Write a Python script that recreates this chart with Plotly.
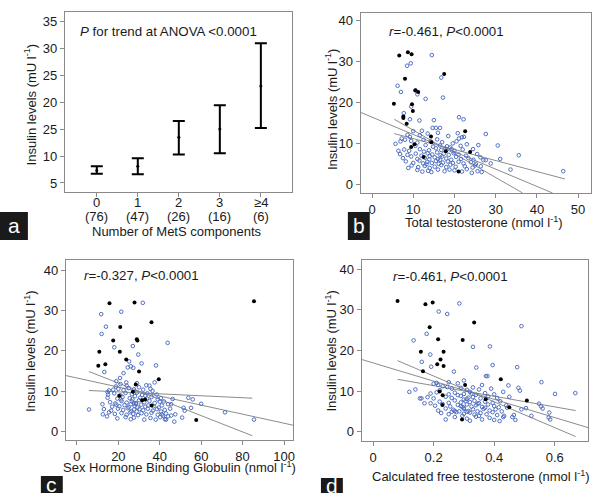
import plotly.graph_objects as go

W, H = 606, 493

# ---------------- data ----------------
# Panel a
group_num = ["0", "1", "2", "3", "≥4"]
group_n = ["(76)", "(47)", "(26)", "(16)", "(6)"]
group_pos = [0, 1, 2, 3, 4]
insulin_mean = [7.3, 8.1, 13.5, 15.0, 23.0]
insulin_upper = [8.1, 9.6, 16.5, 19.4, 30.9]
insulin_lower = [6.7, 6.6, 10.3, 10.5, 15.2]
a_ytick_vals = [5, 10, 15, 20, 25, 30, 35]
a_ytick_text = ["5", "10", "25", "20", "25", "30", "35"]

# Panel b: total testosterone vs insulin
b_black_x = [6.6, 8.7, 9.6, 8.0, 17.5, 10.5, 11.2, 5.3, 9.7, 9.9, 7.6, 7.6, 8.4, 14.3, 22.6, 14.4, 17.9, 12.5, 9.5, 10.3, 21.0, 23.8]
b_black_y = [31.5, 32.3, 31.8, 25.8, 27.0, 23.0, 22.6, 19.7, 19.6, 17.9, 16.6, 16.2, 14.8, 11.7, 13.0, 10.3, 8.1, 6.7, 9.1, 9.8, 3.1, 7.9]
b_blue_x = [8.5, 9.4, 14.5, 6.2, 7.0, 16.8, 17.2, 11.0, 10.6, 13.0, 9.5, 7.7, 9.2, 11.5, 15.0, 21.1, 22.2, 14.7, 15.5, 16.5,
            12.1, 27.6, 30.5, 35.6, 31.1, 33.6, 28.8, 27.0, 27.6, 46.4,
            10.0, 8.6, 11.6, 13.5, 16.0, 20.8, 9.2, 7.2, 21.1, 21.8, 22.3, 18.5,
            8.0, 6.9, 9.5, 12.5, 14.2, 17.0, 20.5, 19.6, 11.0, 15.8,
            5.7, 10.5, 13.0, 14.8, 16.5, 18.2, 19.0, 21.5, 23.0, 25.8,
            7.8, 9.0, 11.6, 13.8, 15.5, 16.8, 17.8, 20.0, 22.0, 24.5, 12.6, 19.3,
            6.8, 8.6, 10.6, 12.0, 13.5, 14.6, 15.8, 16.6, 17.4, 18.6, 19.8, 21.0, 22.8, 25.5, 14.0,
            7.5, 9.5, 11.0, 12.8, 13.9, 15.2, 16.0, 17.0, 18.0, 19.2, 20.4, 21.6, 23.4, 24.6, 26.3, 16.5,
            8.2, 10.0, 11.5, 12.4, 13.4, 14.5, 15.5, 17.2, 18.4, 19.6, 21.0, 22.2, 24.0, 25.2, 26.4, 16.2,
            9.6, 11.2, 12.8, 14.0, 15.2, 16.8, 18.0, 19.0, 20.3, 22.5, 24.4, 25.0, 13.2,
            11.0, 12.2, 13.6, 14.4, 16.0, 17.6, 18.8, 20.0, 21.8, 23.0, 24.2, 25.6, 26.6,
            6.4, 8.8]
b_blue_y = [29.0, 29.6, 31.6, 24.1, 22.6, 26.1, 21.2, 22.0, 22.9, 20.9, 19.0, 17.4, 15.9, 15.6, 15.7, 16.4, 15.9, 13.8, 13.8, 13.8,
            13.1, 12.3, 9.5, 7.1, 6.2, 3.6, 5.1, 5.9, 5.9, 3.2,
            13.0, 12.1, 12.0, 12.4, 12.6, 12.5, 11.6, 11.2, 11.2, 11.5, 11.6, 11.8,
            10.9, 10.5, 10.6, 10.9, 10.5, 10.3, 10.5, 10.0, 10.2, 11.0,
            9.9, 9.4, 9.6, 9.2, 9.5, 9.3, 9.0, 9.4, 9.8, 9.6,
            8.5, 8.2, 8.6, 8.3, 8.8, 8.4, 8.7, 8.2, 8.5, 8.6, 8.0, 8.6,
            7.4, 7.2, 7.5, 7.0, 7.6, 7.3, 7.8, 7.1, 7.5, 7.2, 7.6, 7.3, 7.0, 7.4, 6.9,
            6.4, 6.8, 6.2, 6.5, 6.1, 6.6, 6.2, 6.8, 6.3, 6.0, 6.7, 6.2, 6.4, 6.0, 6.6, 6.0,
            5.6, 5.2, 5.8, 5.1, 5.5, 5.2, 5.7, 5.3, 5.6, 5.2, 5.5, 5.1, 5.4, 5.0, 4.4, 5.0,
            4.6, 4.2, 4.5, 4.0, 4.3, 4.7, 4.2, 4.8, 4.3, 4.4, 4.1, 4.6, 4.9,
            3.5, 3.1, 3.3, 3.0, 3.6, 3.2, 3.6, 3.4, 3.1, 3.7, 2.8, 3.2, 3.0,
            8.2, 4.0]
b_fit_x = [-2.8, 43.8]
b_fit_y = [17.6, -2.13]
b_lim1_x = [5.4, 36.5]
b_lim1_y = [15.9, -2.1]
b_lim2_x = [5.4, 46.8]
b_lim2_y = [12.4, 1.3]

# Panel c: SHBG vs insulin
c_black_x = [15.7, 27.8, 36.0, 20.9, 28.9, 17.5, 10.8, 20.7, 13.7, 10.3, 23.8, 30.0, 39.5, 28.4, 27.0, 20.4, 31.5, 32.9, 36.1, 57.6, 85.5, 29.2]
c_black_y = [31.8, 32.0, 27.1, 25.9, 22.9, 22.6, 19.8, 19.8, 16.7, 16.3, 17.9, 14.9, 13.0, 11.7, 9.9, 8.9, 7.8, 8.0, 6.5, 2.9, 32.3, 22.6]
c_blue_x = [31.8, 11.7, 21.4, 11.9, 14.0, 43.8, 27.0, 18.0, 29.6, 38.2, 31.2, 25.2, 26.0, 24.5, 13.2, 27.2, 22.5, 20.8, 23.8, 21.0, 37.5, 35.0, 33.5, 19.0,
            46.2, 53.8, 55.9, 60.0, 71.5, 85.5, 51.5, 52.0, 55.1, 47.5, 50.8, 47.0, 45.0, 44.0, 42.0, 40.5, 43.0, 45.5, 41.0,
            15.5, 17.5, 20.0, 22.5, 25.0, 27.5, 30.0, 32.0, 36.5, 14.8, 24.0,
            15.0, 18.0, 21.0, 23.5, 26.5, 29.0, 31.5, 34.0, 38.5, 33.0,
            14.8, 19.5, 22.0, 25.5, 28.0, 30.5, 33.8, 36.0, 39.0, 26.8,
            16.0, 18.5, 21.5, 24.0, 26.5, 28.5, 30.0, 32.5, 35.0, 37.5, 40.0, 27.5,
            17.0, 19.0, 20.5, 23.0, 25.0, 26.0, 27.8, 29.3, 31.0, 33.0, 34.5, 37.0, 39.5, 41.0, 28.5,
            5.8, 13.0, 16.5, 19.8, 22.3, 24.5, 26.3, 27.6, 28.8, 30.2, 32.0, 34.2, 36.6, 38.6, 40.6, 42.4,
            12.5, 15.5, 18.3, 21.5, 24.0, 25.8, 27.2, 29.5, 31.2, 33.5, 36.0, 39.0, 41.5, 43.0,
            14.5, 19.5, 23.5, 26.0, 27.5, 32.5, 35.5, 38.0, 40.2, 42.5, 44.0,
            18.8, 29.0, 12.3, 21.2, 35.5, 45.5]
c_blue_y = [31.9, 29.1, 29.7, 24.2, 26.0, 22.0, 21.2, 20.9, 19.1, 16.4, 16.9, 17.4, 16.2, 15.9, 14.8, 15.8, 14.5, 13.3, 12.2, 11.8, 12.2, 11.4, 11.5, 12.5,
            8.1, 8.4, 8.0, 6.9, 4.8, 3.0, 5.9, 5.2, 5.9, 4.3, 3.5, 2.5, 5.7, 6.8, 7.5, 8.3, 3.0, 4.0, 4.3,
            10.2, 10.4, 10.6, 10.3, 10.8, 10.5, 11.0, 10.4, 10.1, 9.8, 11.4,
            9.2, 9.5, 9.0, 9.6, 9.3, 9.7, 9.1, 9.5, 9.2, 8.9,
            8.4, 8.2, 8.6, 8.3, 8.8, 8.4, 8.2, 8.6, 8.0, 8.0,
            7.3, 7.0, 7.6, 7.2, 7.5, 7.1, 7.8, 7.3, 7.6, 7.1, 7.4, 7.0,
            6.2, 6.7, 6.3, 6.6, 6.1, 6.8, 6.4, 6.0, 6.7, 6.2, 6.5, 6.3, 6.0, 6.5, 6.9,
            5.5, 5.6, 5.2, 5.7, 5.4, 5.8, 5.1, 5.5, 5.0, 5.6, 5.3, 5.7, 5.2, 5.6, 5.0, 5.4,
            4.3, 4.8, 4.4, 4.6, 4.2, 4.8, 4.4, 4.1, 4.6, 4.3, 4.7, 4.2, 4.0, 4.5,
            3.8, 3.3, 3.6, 3.1, 3.5, 3.0, 3.4, 3.0, 3.6, 3.1, 3.8,
            11.2, 12.0, 6.8, 8.0, 10.6, 6.8]
c_fit_x = [-5.4, 104.5]
c_fit_y = [13.9, 1.6]
c_lim1_x = [5.8, 84.7]
c_lim1_y = [14.9, -1.0]
c_lim2_x = [5.8, 84.7]
c_lim2_y = [10.2, 8.3]

# Panel d: calculated free testosterone vs insulin
d_black_x = [0.081, 0.173, 0.197, 0.334, 0.187, 0.215, 0.296, 0.158, 0.233, 0.223, 0.212, 0.233, 0.165, 0.304, 0.422, 0.372, 0.508, 0.22, 0.23, 0.229, 0.294, 0.45]
d_black_y = [32.2, 31.4, 31.8, 26.9, 25.7, 22.8, 22.6, 19.7, 19.7, 17.8, 16.6, 16.2, 14.9, 11.5, 12.9, 8.0, 7.7, 9.9, 9.0, 6.6, 3.0, 6.0]
d_blue_x = [0.285, 0.217, 0.245, 0.177, 0.134, 0.189, 0.161, 0.192, 0.330, 0.341, 0.267, 0.373, 0.378, 0.49, 0.386, 0.395, 0.476, 0.556, 0.447, 0.48, 0.485,
            0.601, 0.668, 0.548, 0.555, 0.56, 0.582, 0.58, 0.585, 0.523, 0.44, 0.443, 0.505, 0.49, 0.418, 0.47, 0.43, 0.433, 0.46, 0.465, 0.21, 0.30, 0.245, 0.36,
            0.12, 0.14, 0.155, 0.16, 0.17, 0.19,
            0.20, 0.215, 0.23, 0.26, 0.29, 0.31, 0.33, 0.35, 0.39, 0.25, 0.28,
            0.19, 0.21, 0.25, 0.27, 0.30, 0.32, 0.34, 0.37, 0.40, 0.43,
            0.18, 0.20, 0.24, 0.26, 0.29, 0.31, 0.33, 0.355, 0.38, 0.41, 0.45,
            0.22, 0.25, 0.27, 0.29, 0.30, 0.32, 0.335, 0.35, 0.37, 0.395, 0.42,
            0.205, 0.23, 0.255, 0.28, 0.295, 0.31, 0.325, 0.34, 0.36, 0.38, 0.40, 0.415,
            0.215, 0.24, 0.265, 0.285, 0.30, 0.315, 0.33, 0.345, 0.365, 0.385, 0.405, 0.425,
            0.225, 0.25, 0.275, 0.30, 0.32, 0.335, 0.355, 0.375, 0.395, 0.41,
            0.24, 0.27, 0.31, 0.34, 0.36, 0.385, 0.40, 0.32,
            0.30, 0.31, 0.29, 0.305, 0.315, 0.27, 0.345, 0.28, 0.26, 0.35, 0.22, 0.37, 0.325, 0.295]
d_blue_y = [31.6, 29.6, 29.0, 24.1, 22.5, 19.0, 17.2, 16.0, 20.9, 15.8, 14.8, 13.7, 13.7, 26.0, 21.0, 16.4, 15.9, 12.2, 11.4, 10.8, 10.1,
            9.3, 9.5, 6.9, 6.2, 5.7, 4.7, 3.5, 3.0, 3.9, 6.5, 5.9, 5.8, 5.5, 2.6, 2.9, 3.6, 3.9, 3.6, 4.1, 12.0, 12.6, 11.0, 11.5,
            9.8, 10.4, 8.2, 8.2, 7.0, 7.0,
            11.8, 11.5, 11.2, 10.6, 10.8, 10.3, 10.9, 10.4, 10.6, 12.2, 11.9,
            9.4, 9.7, 9.2, 9.6, 9.3, 9.8, 9.1, 9.5, 9.2, 9.8,
            8.5, 8.2, 8.6, 8.3, 8.8, 8.1, 8.5, 8.2, 8.7, 8.3, 8.6,
            7.4, 7.1, 7.7, 7.2, 7.9, 7.3, 7.6, 7.0, 7.4, 7.1, 7.5,
            6.4, 6.8, 6.2, 6.6, 6.1, 6.7, 6.2, 6.5, 6.1, 6.7, 6.3, 6.0,
            5.2, 5.7, 5.4, 5.0, 5.6, 5.1, 5.5, 5.0, 5.6, 5.2, 5.5, 5.0,
            4.6, 4.3, 4.8, 4.4, 4.7, 4.2, 4.6, 4.3, 4.8, 4.1,
            3.0, 3.6, 3.2, 3.7, 3.0, 3.4, 2.9, 2.7,
            5.9, 4.9, 6.3, 7.5, 8.4, 5.1, 6.9, 9.0, 4.9, 3.9, 10.2, 5.9, 9.4, 3.9]
d_fit_x = [-0.038, 0.71]
d_fit_y = [17.8, 1.0]
d_lim1_x = [0.081, 0.669]
d_lim1_y = [17.5, -1.2]
d_lim2_x = [0.081, 0.669]
d_lim2_y = [12.9, 5.2]

# ---------------- layout helpers ----------------
def fx(px):
    return px / W

def fy(py):
    return 1 - py / H

FONT = "Liberation Sans, Arial, sans-serif"
BOXC = "#8a8a8a"
BLUE = "#5070c0"
LINEC = "#8c8c8c"
TXT = "#1a1a1a"

fig = go.Figure()

# Panel a
fig.add_trace(go.Scatter(
    x=group_pos, y=insulin_mean, mode="markers",
    marker=dict(color="black", size=3),
    error_y=dict(type="data", symmetric=False,
                 array=[u - m for u, m in zip(insulin_upper, insulin_mean)],
                 arrayminus=[m - l for m, l in zip(insulin_mean, insulin_lower)],
                 color="black", thickness=2, width=6),
    xaxis="x", yaxis="y", showlegend=False, hoverinfo="skip"))

def add_scatter_panel(xa, ya, bx, by, ux, uy, fits):
    for (lx, ly) in fits:
        fig.add_trace(go.Scatter(x=lx, y=ly, mode="lines",
                                 line=dict(color=LINEC, width=1),
                                 xaxis=xa, yaxis=ya, showlegend=False, hoverinfo="skip"))
    fig.add_trace(go.Scatter(x=ux, y=uy, mode="markers",
                             marker=dict(symbol="circle-open", size=3.6, color=BLUE,
                                         line=dict(width=1, color=BLUE)),
                             xaxis=xa, yaxis=ya, showlegend=False, hoverinfo="skip"))
    fig.add_trace(go.Scatter(x=bx, y=by, mode="markers",
                             marker=dict(symbol="circle", size=4, color="black"),
                             xaxis=xa, yaxis=ya, showlegend=False, hoverinfo="skip"))

add_scatter_panel("x2", "y2", b_black_x, b_black_y, b_blue_x, b_blue_y,
                  [(b_fit_x, b_fit_y), (b_lim1_x, b_lim1_y), (b_lim2_x, b_lim2_y)])
add_scatter_panel("x3", "y3", c_black_x, c_black_y, c_blue_x, c_blue_y,
                  [(c_fit_x, c_fit_y), (c_lim1_x, c_lim1_y), (c_lim2_x, c_lim2_y)])
add_scatter_panel("x4", "y4", d_black_x, d_black_y, d_blue_x, d_blue_y,
                  [(d_fit_x, d_fit_y), (d_lim1_x, d_lim1_y), (d_lim2_x, d_lim2_y)])

axis_common = dict(showgrid=False, zeroline=False, showline=True, mirror=True,
                   linecolor=BOXC, linewidth=1, ticks="outside", ticklen=4,
                   tickcolor=BOXC, tickfont=dict(family=FONT, size=13, color=TXT))

layout = dict(
    width=W, height=H, margin=dict(l=0, r=0, t=0, b=0),
    paper_bgcolor="white", plot_bgcolor="white",
    font=dict(family=FONT, size=13, color=TXT),
    xaxis=dict(domain=[fx(65), fx(293)], range=[-0.78, 4.76], anchor="y",
               tickvals=group_pos, showticklabels=False, **axis_common),
    yaxis=dict(domain=[fy(192), fy(12)], range=[3.33, 36.7], anchor="x",
               tickvals=a_ytick_vals, ticktext=a_ytick_text, **axis_common),
    xaxis2=dict(domain=[fx(361.7), fx(592.7)], range=[-2.8, 53.07], anchor="y2",
                tickvals=[0, 10, 20, 30, 40, 50], **axis_common),
    yaxis2=dict(domain=[fy(193), fy(13)], range=[-2.13, 41.9], anchor="x2",
                tickvals=[0, 10, 20, 30, 40], **axis_common),
    xaxis3=dict(domain=[fx(66), fx(294.3)], range=[-5.4, 104.5], anchor="y3",
                tickvals=[0, 20, 40, 60, 80, 100], **axis_common),
    yaxis3=dict(domain=[fy(440), fy(260)], range=[-2.05, 42.5], anchor="x3",
                tickvals=[0, 10, 20, 30, 40], **axis_common),
    xaxis4=dict(domain=[fx(362.7), fx(590)], range=[-0.038, 0.71], anchor="y4",
                tickvals=[0, 0.2, 0.4, 0.6], ticktext=["0", "0.2", "0.4", "0.6"], **axis_common),
    yaxis4=dict(domain=[fy(441), fy(260)], range=[-2.3, 42.3], anchor="x4",
                tickvals=[0, 10, 20, 30, 40], **axis_common),
)
fig.update_layout(**layout)

ann = []
def text(px, py, s, xanchor="center", yanchor="middle", size=13, angle=0, color=TXT):
    ann.append(dict(x=fx(px), y=fy(py), xref="paper", yref="paper", text=s,
                    showarrow=False, xanchor=xanchor, yanchor=yanchor, textangle=angle,
                    font=dict(family=FONT, size=size, color=color)))

# panel a category labels (two lines), placed on the category axis
for pos, num, n in zip(group_pos, group_num, group_n):
    for s, py in ((num, 202), (n, 217)):
        ann.append(dict(x=pos, y=fy(py), xref="x", yref="paper", text=s,
                        showarrow=False, xanchor="center", yanchor="middle",
                        font=dict(family=FONT, size=13, color=TXT)))

ytitle = "Insulin levels (mU l<sup>-1</sup>)"
text(30, 104.5, ytitle, angle=-90)
text(331.7, 109.5, ytitle, angle=-90)
text(30, 351, ytitle, angle=-90)
text(331.7, 351, ytitle, angle=-90)

text(178, 231, "Number of MetS components")
text(486, 222, "Total testosterone (nmol l<sup>-1</sup>)")
text(180, 467, "Sex Hormone Binding Globulin (nmol l<sup>-1</sup>)")
text(483, 476, "Calculated free testosterone (nmol l<sup>-1</sup>)")

text(78, 31, "<i>P</i> for trend at ANOVA &lt;0.0001", xanchor="left", size=13.3)
text(388, 31.7, "<i>r</i>=-0.461, <i>P</i>&lt;0.0001", xanchor="left", size=13.3)
text(82, 275, "<i>r</i>=-0.327, <i>P</i>&lt;0.0001", xanchor="left", size=13.3)
text(392, 276, "<i>r</i>=-0.461, <i>P</i>&lt;0.0001", xanchor="left", size=13.3)

# panel letters
shapes = []
for (x0, y0, x1, y1, letter) in [(0, 212, 28, 240, "a"), (349, 212, 371, 240, "b"),
                                  (41, 476, 63, 495, "c"), (322, 478, 344, 495, "d")]:
    shapes.append(dict(type="rect", xref="paper", yref="paper",
                       x0=fx(x0), x1=fx(x1), y0=fy(y1), y1=fy(y0),
                       fillcolor="#1a1a1a", line=dict(width=0)))
    text((x0 + x1) / 2, (y0 + y1) / 2 - 1, letter, size=21, color="white")

fig.update_layout(annotations=ann, shapes=shapes)
fig.write_html("out.html", config={"displayModeBar": False},
               post_script="document.body.style.margin='0';document.body.style.overflow='hidden';")
